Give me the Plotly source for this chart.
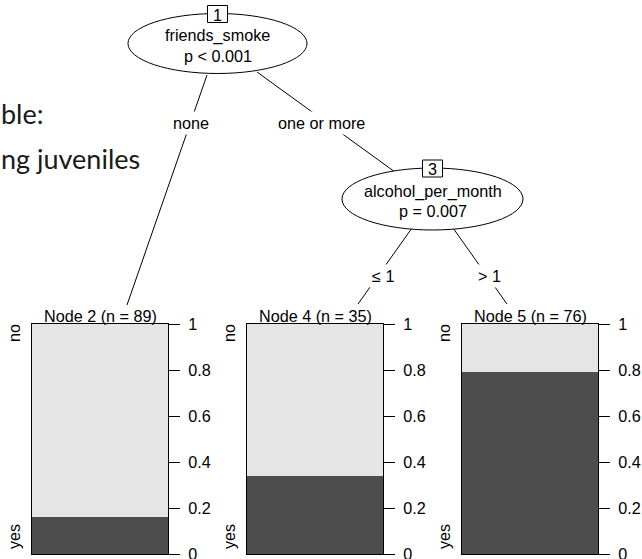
import plotly.graph_objects as go

# ---------------- data ----------------
terminal_ids = [2, 4, 5]
terminal_n = [89, 35, 76]
share_yes = [0.16, 0.34, 0.79]
share_no = [0.84, 0.66, 0.21]
class_labels = ["yes", "no"]
tick_vals = [0, 0.2, 0.4, 0.6, 0.8, 1]
tick_text = ["0", "0.2", "0.4", "0.6", "0.8", "1"]

inner_ids = [1, 3]
inner_vars = ["friends_smoke", "alcohol_per_month"]
inner_pvals = ["p < 0.001", "p = 0.007"]
edge_labels = ["none", "one or more", "≤ 1", "> 1"]
title_fragments = ["ble:", "ng juveniles"]

# ---------------- layout constants (pixels) ----------------
W, H = 642, 559
FONT = "Liberation Sans, Arial, sans-serif"
FS = 16.2
DARK = "#4D4D4D"
LIGHT = "#E5E5E5"

panel_x = [(32, 168), (247, 383), (462, 598)]
panel_top, panel_bottom = 324, 554

inner_geom = [  # cx, cy, rx, ry
    (217.5, 43.5, 89.5, 30),
    (432.5, 199, 90.5, 31),
]
edges = [  # x0, y0, x1, y1, label x, label y
    (207, 75, 127, 305, 191, 123),
    (257, 72, 395, 172, 321, 123),
    (412, 228, 358, 304, 383, 276),
    (453, 228, 507, 304, 489, 276),
]

fig = go.Figure()
shapes = []
annotations = []

# overlay axis in pixel coordinates for the tree drawing
layout_axes = dict(
    xaxis=dict(domain=[0, 1], range=[0, W], visible=False,
               fixedrange=True, automargin=False),
    yaxis=dict(domain=[0, 1], range=[H, 0], visible=False,
               fixedrange=True, automargin=False),
)

def txt(x, y, s, size=FS, **kw):
    d = dict(x=x, y=y, xref="x", yref="y", text=s, showarrow=False,
             font=dict(family=FONT, size=size, color="black"),
             xanchor="center", yanchor="middle")
    d.update(kw)
    return d

# ---------------- terminal bar panels ----------------
for i, (nid, n) in enumerate(zip(terminal_ids, terminal_n)):
    k = i + 2
    xa, ya = f"x{k}", f"y{k}"
    fig.add_trace(go.Bar(x=[0], y=[share_yes[i]], name=class_labels[0], width=1,
                         marker=dict(color=DARK, line=dict(width=0)),
                         xaxis=xa, yaxis=ya, showlegend=False, hoverinfo="skip"))
    fig.add_trace(go.Bar(x=[0], y=[share_no[i]], name=class_labels[1], width=1,
                         marker=dict(color=LIGHT, line=dict(width=0)),
                         xaxis=xa, yaxis=ya, showlegend=False, hoverinfo="skip"))
    x0, x1 = panel_x[i]
    layout_axes[f"xaxis{k}"] = dict(
        domain=[x0 / W, x1 / W], range=[-0.5, 0.5], anchor=ya,
        showline=True, mirror=True, linecolor="black", linewidth=1,
        showticklabels=False, ticks="", showgrid=False, zeroline=False,
        fixedrange=True, automargin=False,
    )
    layout_axes[f"yaxis{k}"] = dict(
        domain=[(H - panel_bottom) / H, (H - panel_top) / H],
        range=[0, 1], anchor=xa,
        side="right", showline=True, mirror=True, linecolor="black", linewidth=1,
        ticks="outside", ticklen=11, tickwidth=1, tickcolor="black",
        tickvals=tick_vals, ticktext=tick_text, ticklabelstandoff=5,
        ticklabeloverflow="allow",
        tickfont=dict(family=FONT, size=FS, color="black"),
        showgrid=False, zeroline=False, fixedrange=True, automargin=False,
    )
    cx = (x0 + x1) / 2
    annotations.append(txt(cx, 316, f"Node {nid} (n = {n})"))
    annotations.append(txt(x0 - 18, 333, class_labels[1], textangle=-90))
    annotations.append(txt(x0 - 18, 537, class_labels[0], textangle=-90))

# ---------------- edges ----------------
for (x0, y0, x1, y1, lx, ly), lab in zip(edges, edge_labels):
    shapes.append(dict(type="line", xref="x", yref="y", x0=x0, y0=y0, x1=x1, y1=y1,
                       line=dict(color="black", width=1)))
    annotations.append(txt(lx, ly, lab, bgcolor="white", borderpad=2))

# ---------------- inner nodes ----------------
for (cx, cy, rx, ry), nid, var, pv in zip(inner_geom, inner_ids, inner_vars, inner_pvals):
    shapes.append(dict(type="circle", xref="x", yref="y", x0=cx - rx, x1=cx + rx,
                       y0=cy - ry, y1=cy + ry, fillcolor="white",
                       line=dict(color="black", width=1)))
    shapes.append(dict(type="rect", xref="x", yref="y", x0=cx - 10, x1=cx + 10,
                       y0=cy - ry - 8, y1=cy - ry + 9, fillcolor="white",
                       line=dict(color="black", width=1)))
    annotations.append(txt(cx, cy - ry + 1, str(nid)))
    annotations.append(txt(cx, cy - 8, var))
    annotations.append(txt(cx, cy + 12, pv))

# ---------------- cut-off title fragments ----------------
for s, ty in zip(title_fragments, [113, 158]):
    annotations.append(txt(0.5, ty, s, xanchor="left", xshift=-2,
                           font=dict(family="Lato, sans-serif", size=27, color="#1a1a1a")))

fig.update_layout(
    width=W, height=H, margin=dict(l=0, r=0, t=0, b=0, autoexpand=False),
    paper_bgcolor="white", plot_bgcolor="rgba(0,0,0,0)",
    barmode="stack", bargap=0, showlegend=False,
    shapes=shapes, annotations=annotations,
    **layout_axes,
)

fig.write_html(
    "out.html",
    config={"displayModeBar": False, "staticPlot": True},
    post_script="document.body.style.margin='0';document.body.style.overflow='hidden';",
)
